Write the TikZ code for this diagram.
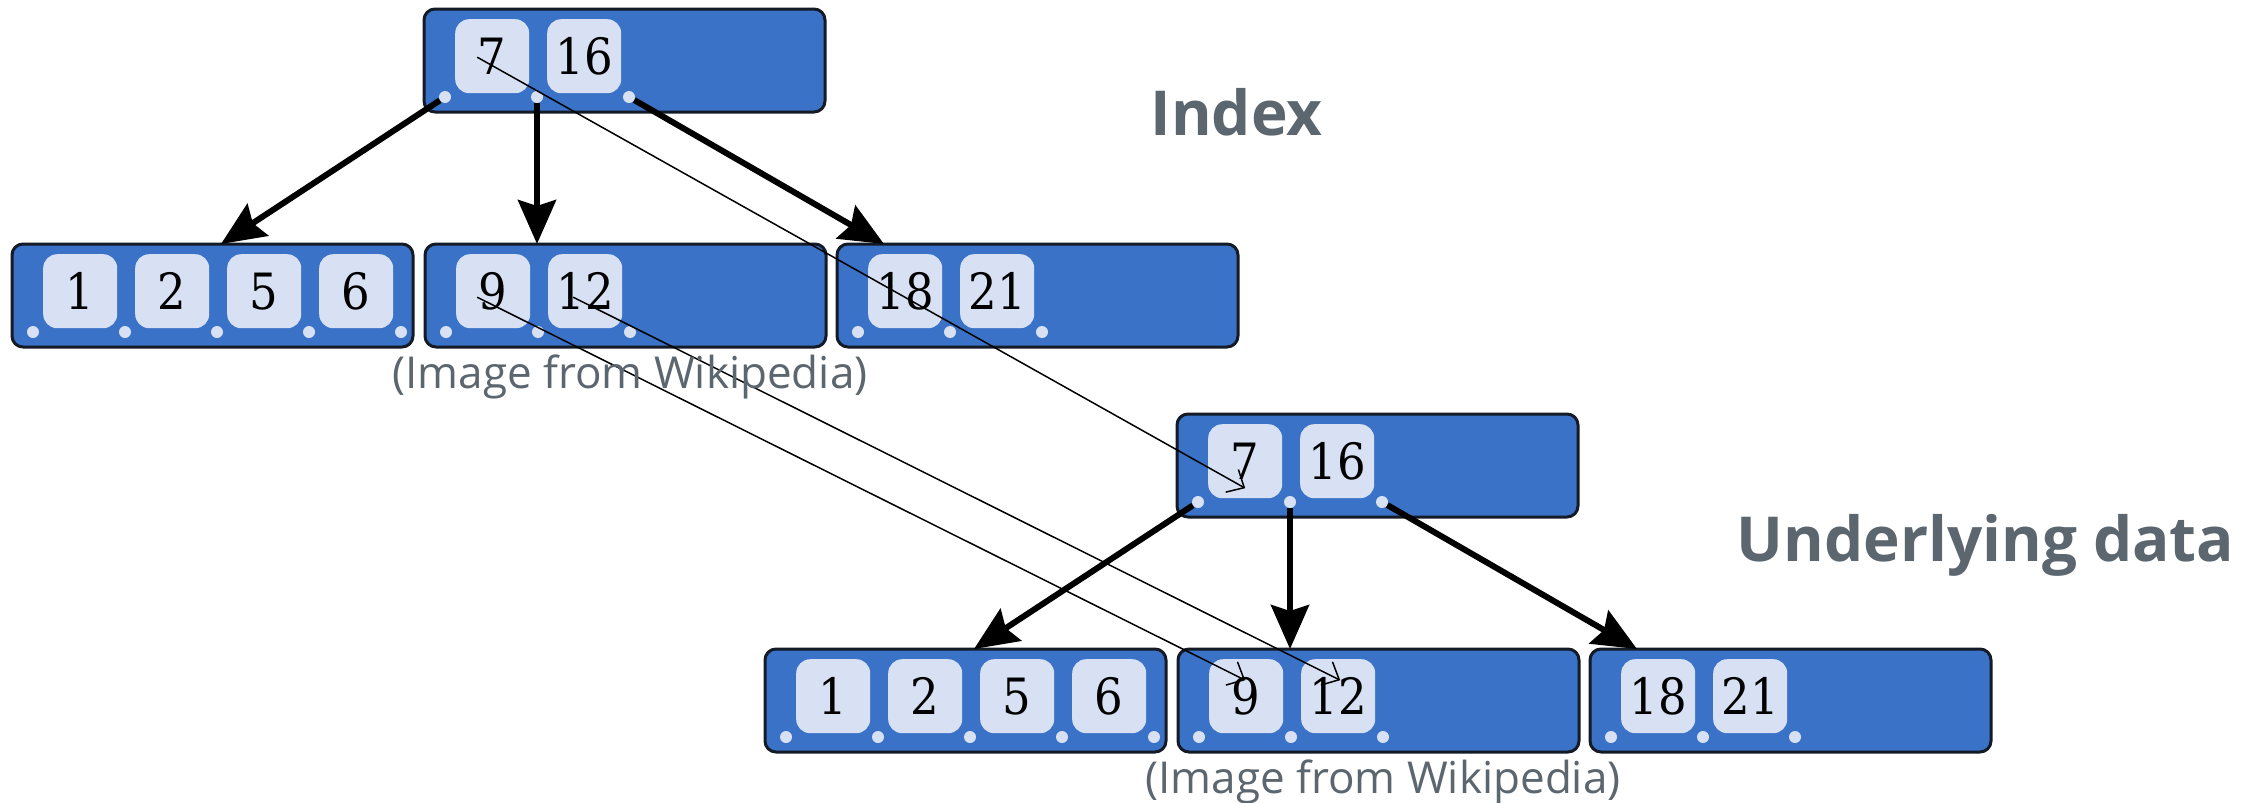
\documentclass[tikz,border=0pt]{standalone}
\usepackage{fontspec}
\newfontfamily\keyfont[FakeStretch=0.9]{DejaVu Serif}
\newfontfamily\labelfont{Open Sans}
\usetikzlibrary{arrows.meta,calc}
\definecolor{nodeblue}{HTML}{3A72C8}
\definecolor{keyfill}{HTML}{D7E1F3}
\definecolor{labelgray}{HTML}{5C666F}
\definecolor{edgedark}{HTML}{141A26}

\tikzset{
 bnode/.style={draw=edgedark, line width=3pt, fill=nodeblue, rounded corners=11pt, minimum width=401pt, minimum height=103pt, inner sep=0pt, outer sep=0pt, anchor=north west},
 keybox/.style={fill=keyfill, rounded corners=14pt, minimum width=74pt, minimum height=74pt, inner sep=0pt, font=\keyfont\fontsize{50}{50}\selectfont, text=black, anchor=north west},
 ptrdot/.style={circle, fill=keyfill, minimum size=12pt, inner sep=0pt},
 treearrow/.style={line width=6pt, -{Stealth[length=44pt,width=38pt,inset=6pt]}},
 refarrow/.style={line width=1.5pt, black, -{Straight Barb[length=14pt,width=26pt]}},
 caption/.style={text=labelgray, font=\labelfont\fontsize{44}{44}\selectfont, anchor=base},
 title/.style={text=labelgray, font=\labelfont\bfseries\fontsize{62}{62}\selectfont, anchor=base west},
}

\newcommand{\btnode}[5]{%
  \node[bnode] (#1) at (#2,#3) {};
  \foreach \k [count=\i from 0] in {#4} {
    \node[keybox] (#1-k\i) at ({#2+31+92*\i},{#3+10}) {\k};
  }
  \foreach \i in {0,...,#5} {
    \node[ptrdot] (#1-d\i) at ({#2+21+92*\i},{#3+88}) {};
  }
}

\begin{document}
\begin{tikzpicture}[x=1pt,y=-1pt]
\useasboundingbox (0,0) rectangle (2247,803);
% top tree (index)
\btnode{ta}{424}{9}{7,16}{2}
\btnode{tb}{12}{244}{1,2,5,6}{4}
\btnode{tc}{425}{244}{9,12}{2}
\btnode{td}{837}{244}{18,21}{2}
% bottom tree (underlying data)
\btnode{ba}{1177}{414}{7,16}{2}
\btnode{bb}{765}{649}{1,2,5,6}{4}
\btnode{bc}{1178}{649}{9,12}{2}
\btnode{bd}{1590}{649}{18,21}{2}

\draw[treearrow] (ta-d0) -- ($(tb.north west)+(209,0)$);
\draw[treearrow] (ta-d1) -- (ta-d1.center |- tc.north);
\draw[treearrow] (ta-d2) -- ($(td.north west)+(47,0)$);
\draw[treearrow] (ba-d0) -- ($(bb.north west)+(209,0)$);
\draw[treearrow] (ba-d1) -- (ba-d1.center |- bc.north);
\draw[treearrow] (ba-d2) -- ($(bd.north west)+(47,0)$);

\draw[refarrow] ($(ta-k0.center)+(-15,1)$) -- ($(ba-k0.center)+(0,27)$);
\draw[refarrow] ($(tc-k0.center)+(-16,6)$) -- ($(bc-k0.center)+(-1,-16)$);
\draw[refarrow] ($(tc-k1.center)+(-12,6)$) -- ($(bc-k1.center)+(2,-16)$);

\node[title] (idx) at (1147,135) {Index};
\node[title] (ud) at (1733,561) {Underlying data};
\node[caption] (cap1) at (630,388) {(Image from Wikipedia)};
\node[caption] (cap2) at (1383,793) {(Image from Wikipedia)};
\end{tikzpicture}
\end{document}
